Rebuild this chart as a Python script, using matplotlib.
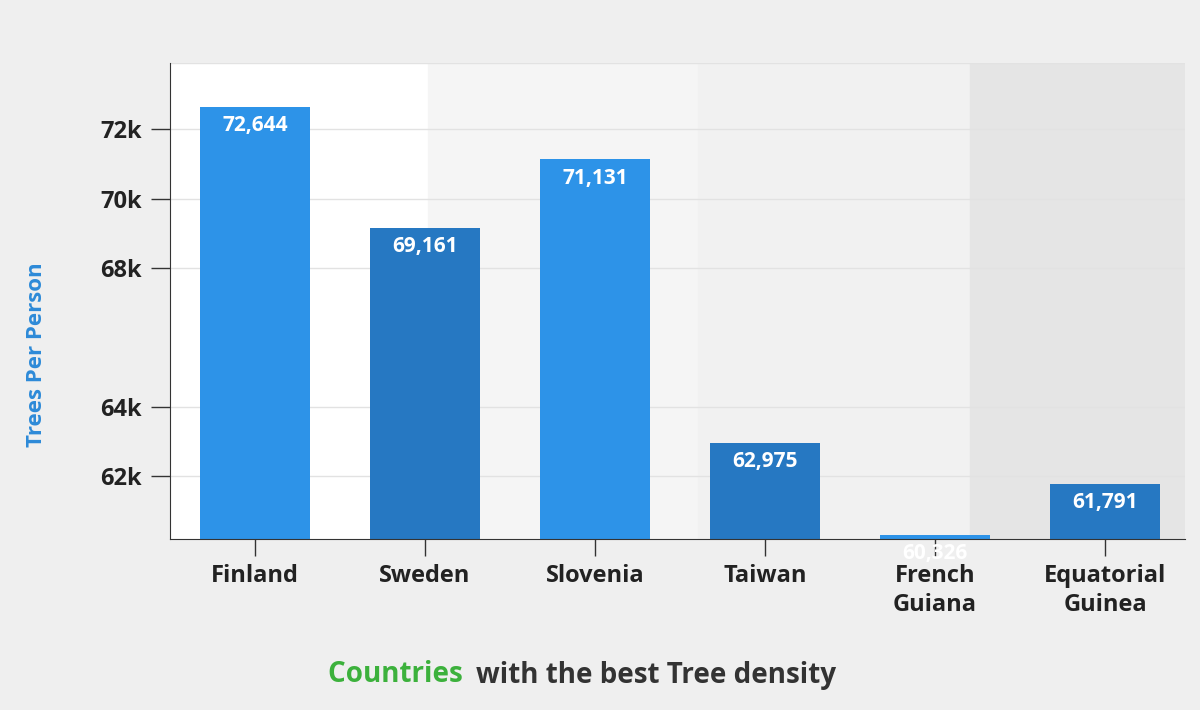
import matplotlib.pyplot as plt

countries = ["Finland", "Sweden", "Slovenia", "Taiwan", "French\nGuiana", "Equatorial\nGuinea"]
trees = [72644, 69161, 71131, 62975, 60326, 61791]
tick_values = [62000, 64000, 68000, 70000, 72000]
tick_labels = ["62k", "64k", "68k", "70k", "72k"]

light = "#2d93e8"
dark = "#2678c2"
colors = [light, dark, light, dark, light, dark]

plt.rcParams['font.family'] = ['Open Sans', 'DejaVu Sans']
fig = plt.figure(figsize=(12, 7.1), dpi=100)
fig.patch.set_facecolor("#efefef")

# white panel behind the chart
bg = fig.add_axes([75 / 1200, 70 / 710, 1125 / 1200, 640 / 710])
bg.set_facecolor("white")
bg.set_axis_off()
bg.patch.set_visible(True)
bg.set_zorder(-1)

ax = fig.add_axes([170 / 1200, 171 / 710, 1015 / 1200, 476 / 710])
ax.set_facecolor("white")
ax.set_xlim(-0.5, 5.47)
ax.set_ylim(60200, 73900)

ax.axvspan(1.018, 2.606, color="#f5f5f5", zorder=0)
ax.axvspan(2.606, 4.206, color="#f1f1f1", zorder=0)
ax.axvspan(4.206, 5.47, color="#e5e5e5", zorder=0)

for v in tick_values + [73900]:
    ax.axhline(v, color="#e2e2e2", lw=1, zorder=1)

bars = ax.bar(range(len(countries)), trees, width=0.65, color=colors, zorder=2)
for b, v in zip(bars, trees):
    ax.text(b.get_x() + b.get_width() / 2, v - 250, f"{v:,}", ha="center", va="top",
            color="white", fontsize=15, fontweight="bold", zorder=3)

ax.set_xticks(range(len(countries)))
ax.set_xticklabels(countries, fontsize=17, fontweight="bold", color="#222222", linespacing=1.3)
ax.set_yticks(tick_values)
ax.set_yticklabels(tick_labels, fontsize=17, fontweight="bold", color="#222222")
ax.tick_params(axis="x", length=12, width=1, color="#333333", pad=6)
ax.tick_params(axis="y", length=14, width=1, color="#333333", pad=6)
for s in ["top", "right"]:
    ax.spines[s].set_visible(False)
ax.spines["left"].set_color("#333333")
ax.spines["bottom"].set_color("#333333")

fig.text(37 / 1200, 355 / 710, "Trees Per Person", rotation=90, ha="center", va="center",
         fontsize=16, fontweight="bold", color="#2d8ad8")

fig.text(470 / 1200, 35 / 710, "Countries ", ha="right", va="center",
         fontsize=20, fontweight="bold", color="#3cb13c")
fig.text(476 / 1200, 35 / 710, "with the best Tree density", ha="left", va="center",
         fontsize=20, fontweight="bold", color="#333333")

fig.savefig("out.png", dpi=100, facecolor=fig.get_facecolor())
